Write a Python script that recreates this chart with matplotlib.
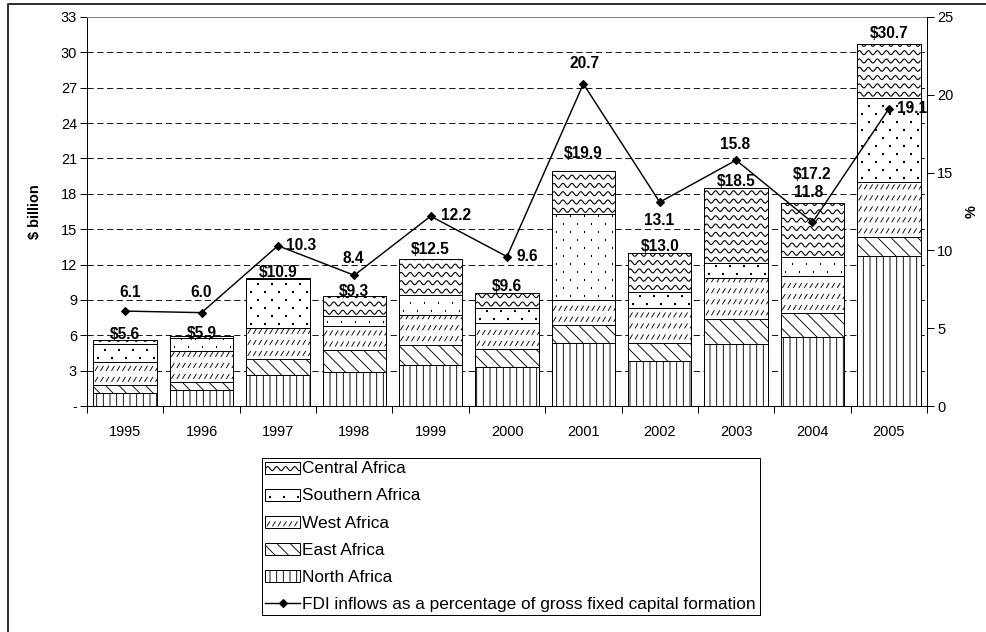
import numpy as np
import matplotlib
matplotlib.use('Agg')
import matplotlib.pyplot as plt
from matplotlib.patches import Rectangle
from matplotlib.collections import LineCollection
from matplotlib.lines import Line2D

years = ['1995', '1996', '1997', '1998', '1999', '2000', '2001', '2002', '2003', '2004', '2005']
north = [1.1, 1.35, 2.65, 2.9, 3.5, 3.3, 5.35, 3.85, 5.3, 5.85, 12.7]
east = [0.65, 0.65, 1.3, 1.85, 1.7, 1.5, 1.5, 1.5, 2.1, 2.0, 1.65]
west = [1.95, 2.65, 2.7, 2.0, 2.5, 2.2, 2.1, 3.0, 3.5, 3.2, 4.65]
southern = [1.6, 1.15, 4.1, 0.85, 1.7, 1.3, 7.3, 1.35, 1.2, 1.55, 7.1]
central = [0.3, 0.1, 0.15, 1.7, 3.1, 1.3, 3.65, 3.3, 6.4, 4.6, 4.6]
totals = [5.6, 5.9, 10.9, 9.3, 12.5, 9.6, 19.9, 13.0, 18.5, 17.2, 30.7]
pct = [6.1, 6.0, 10.3, 8.4, 12.2, 9.6, 20.7, 13.1, 15.8, 11.8, 19.1]

left_ticks = [0, 3, 6, 9, 12, 15, 18, 21, 24, 27, 30, 33]
left_labels = ['-', '3', '6', '9', '12', '15', '18', '21', '24', '27', '30', '33']
right_ticks = [0, 5, 10, 15, 20, 25]

# label placement (pixels): total labels above bar, pct labels around marker
total_off = [5, 3, 5, 4.6, 9, 6.5, 18, 6, 6.7, 29, 11]
pct_pos = [('center', 5, 18.6), ('center', 0, 20), ('left', 8, 0), ('center', -1, 17),
           ('left', 10, 1), ('left', 9, 0), ('center', 1, 20), ('center', -0.6, -18),
           ('center', -1, 16), ('center', -3.6, 30), ('left', 8, 0)]

DPI = 80
PT = 72.0 / DPI  # points per pixel

plt.rcParams['font.family'] = ['Liberation Sans', 'DejaVu Sans']
plt.rcParams['hatch.linewidth'] = 0.8


def wave_lines(x0, x1, y0, y1, sx, sy):
    step, amp, lam = 8.3 * sy, 2.0 * sy, 9 * sx
    xs = np.linspace(x0, x1, 150)
    out = []
    y = y0 + 0.5 * step
    while y < y1 + amp:
        out.append(np.column_stack([xs, y + amp * np.sin(2 * np.pi * (xs - x0) / lam)]))
        y += step
    return out


def dash_lines(x0, x1, y0, y1, sx, sy):
    out = []
    y = y0 + 6 * sy
    while y < y1:
        x = x0 + 1.5 * sx
        while x < x1:
            out.append([(x, y - 2.5 * sy), (x + 3 * sx, y + 2.5 * sy)])
            x += 5.5 * sx
        y += 11 * sy
    return out


def dot_lines(x0, x1, y0, y1, sx, sy):
    out = []
    y = y0 + 4 * sy
    row = 0
    while y < y1 - 1 * sy:
        x = x0 + (4 if row % 2 == 0 else 11) * sx
        while x < x1 - 1 * sx:
            out.append([(x, y), (x + 1.5 * sx, y)])
            x += 14 * sx
        y += 8 * sy
        row += 1
    return out


PATTERNS = {'wave': wave_lines, 'dash': dash_lines, 'dot': dot_lines}
PATTERN_LW = {'wave': 1.0, 'dash': 0.8, 'dot': 1.9}


class PatternHandler:
    def __init__(self, hatch=None, kind=None):
        self.hatch = hatch
        self.kind = kind

    def legend_artist(self, legend, orig_handle, fontsize, handlebox):
        x0, y0 = handlebox.xdescent, handlebox.ydescent
        w, h = handlebox.width, handlebox.height
        tr = handlebox.get_transform()
        rect = Rectangle((x0, y0), w, h, facecolor='white', edgecolor='black',
                         lw=0.9, hatch=self.hatch, transform=tr)
        handlebox.add_artist(rect)
        if self.kind:
            if self.kind == 'wave':
                segs = wave_lines(x0, x0 + w, y0 + 1 * PT, y0 + h - 6 * PT, PT, PT)
            elif self.kind == 'dash':
                segs = dash_lines(x0, x0 + w - 3 * PT, y0 - 2 * PT, y0 + h - 3 * PT, PT, PT)
            else:
                segs = dot_lines(x0, x0 + w, y0, y0 + h, PT, PT)
            lc = LineCollection(segs, colors='black', linewidths=PATTERN_LW[self.kind], transform=tr)
            handlebox.add_artist(lc)
        return rect


fig = plt.figure(figsize=(986 / DPI, 632 / DPI), dpi=DPI)
ax = fig.add_axes([87 / 986, 1 - 406 / 632, 840 / 986, 389 / 632])
ax2 = ax.twinx()

x = np.arange(len(years))
series = [
    ('North Africa', north, '||', None),
    ('East Africa', east, '\\\\', None),
    ('West Africa', west, None, 'dash'),
    ('Southern Africa', southern, None, 'dot'),
    ('Central Africa', central, None, 'wave'),
]
sx = 11 / 840.0
sy = 33 / 389.0
bottom = np.zeros(len(years))
handles = {}
for name, vals, hatch, kind in series:
    bars = ax.bar(x, vals, bottom=bottom, width=0.83, color='white', edgecolor='black',
                  lw=0.9, hatch=hatch, zorder=2)
    if kind:
        for rect in bars:
            bx, by = rect.get_x(), rect.get_y()
            segs = PATTERNS[kind](bx, bx + rect.get_width(), by, by + rect.get_height(), sx, sy)
            lc = LineCollection(segs, colors='black', linewidths=PATTERN_LW[kind], zorder=2.5)
            ax.add_collection(lc)
            lc.set_clip_path(rect)
    handles[name] = (Rectangle((0, 0), 1, 1), PatternHandler(hatch, kind))
    bottom = bottom + np.array(vals)

for i, t in enumerate(totals):
    ax.annotate('$%.1f' % t, (x[i], bottom[i]), xytext=(0, total_off[i] * PT),
                textcoords='offset points', ha='center', va='center',
                fontsize=14, fontweight='bold', zorder=5)

line, = ax2.plot(x, pct, color='black', lw=1.3, marker='D', markersize=5.5, zorder=4)
for i, p in enumerate(pct):
    ha, dx, dy = pct_pos[i]
    ax2.annotate('%.1f' % p, (x[i], p), xytext=(dx * PT, dy * PT),
                 textcoords='offset points', ha=ha, va='center',
                 fontsize=14, fontweight='bold')

ax.set_xlim(-0.5, len(years) - 0.5)
ax.set_ylim(0, 33)
ax2.set_ylim(0, 25)
ax.set_yticks(left_ticks)
ax.set_yticklabels(left_labels)
ax2.set_yticks(right_ticks)
ax.set_xticks(x)
ax.set_xticklabels(years)
ax.set_xticks(np.arange(-0.5, len(years)), minor=True)
ax.tick_params(axis='x', which='major', length=0, pad=17, labelsize=13)
ax.tick_params(axis='x', which='minor', length=6, width=0.9, direction='out')
ax.tick_params(axis='y', length=6, width=0.9, direction='out', pad=3, labelsize=13)
ax2.tick_params(axis='y', length=6, width=0.9, direction='out', pad=3, labelsize=13)

ax.set_axisbelow(True)
ax.yaxis.grid(True, color='black', linestyle=(0, (7, 4)), lw=0.8)
ax.get_ygridlines()[-1].set_visible(False)

for s in ['left', 'bottom']:
    ax.spines[s].set_linewidth(0.9)
ax.spines['right'].set_visible(False)
ax.spines['top'].set_color('#808080')
ax.spines['top'].set_linewidth(0.9)
for s in ['left', 'bottom', 'top']:
    ax2.spines[s].set_visible(False)
ax2.spines['right'].set_linewidth(0.9)

ax.set_ylabel(r'\$ billion', fontsize=13, fontweight='bold')
ax.yaxis.set_label_coords(-0.054, 0.5)
ax2.set_ylabel('%', fontsize=13, fontweight='bold')
ax2.yaxis.set_label_coords(1.045, 0.5)

order = ['Central Africa', 'Southern Africa', 'West Africa', 'East Africa', 'North Africa']
leg_handles = [handles[n][0] for n in order] + [line]
leg_labels = order + ['FDI inflows as a percentage of gross fixed capital formation']
hmap = {handles[n][0]: handles[n][1] for n in order}
leg = fig.legend(leg_handles, leg_labels, handler_map=hmap, loc='upper left',
                 bbox_to_anchor=(262 / 986, 1 - 458 / 632), fontsize=15.5, frameon=True,
                 fancybox=False, edgecolor='black', framealpha=1, borderpad=0.2,
                 labelspacing=0.7, handlelength=2.0, handleheight=0.65, handletextpad=0.15,
                 borderaxespad=0)
leg.get_frame().set_linewidth(0.9)

# outer chart border (left and top only visible)
fig.add_artist(Line2D([7.5 / 986, 7.5 / 986, 1], [0, 1 - 3.5 / 632, 1 - 3.5 / 632],
                      transform=fig.transFigure, color='#333333', lw=1.8))

fig.savefig('out.png', dpi=DPI)
